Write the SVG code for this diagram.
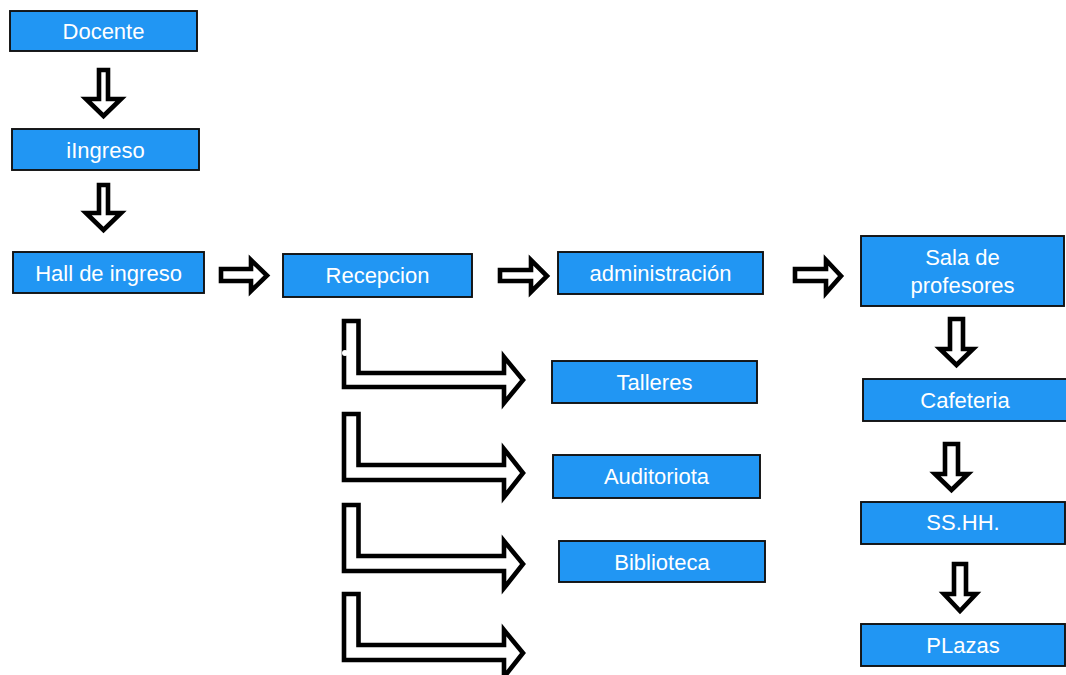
<svg xmlns="http://www.w3.org/2000/svg" width="1066" height="675" viewBox="0 0 1066 675">
<style>
.box{fill:#2196F3;stroke:#111;stroke-width:1.9}
.lbl{fill:#fff;font-family:"Liberation Sans",Arial,sans-serif;font-size:22px;text-anchor:middle}
.arr{fill:#fff;stroke:#000;stroke-width:4.6;stroke-linejoin:miter}
</style>
<rect width="1066" height="675" fill="#fff"/>
<g id="connectors">
<polygon class="arr" points="99,70 108,70 108,99 121,99 103.5,116 86,99 99,99"/>
<polygon class="arr" points="99,185 108,185 108,213 121,213 103.5,230 86,213 99,213"/>
<polygon class="arr" points="221,269 251,269 251,260 267,275.5 251,291 251,281 221,281"/>
<polygon class="arr" points="500,270 531,270 531,260 547,276 531,292 531,281 500,281"/>
<polygon class="arr" points="795,269 826,269 826,260 841,276 826,293 826,281 795,281"/>
<polygon class="arr" points="950,319 963,319 963,349 973,349 956.5,365 940,349 950,349"/>
<polygon class="arr" points="945,444 958,444 958,474 968,474 951.5,490 935,474 945,474"/>
<polygon class="arr" points="954,564 966,564 966,594 976,594 960,611 944,594 954,594"/>
<polygon class="arr" points="344,321 358.5,321 358.5,373 504,373 504,357 523,380 504,403 504,387 344,387"/>
<polygon class="arr" points="344,414 358.5,414 358.5,465 504,465 504,449 523,473 504,497 504,480 344,480"/>
<polygon class="arr" points="344,505 358.5,505 358.5,556 504,556 504,541 523,564 504,588 504,571 344,571"/>
<polygon class="arr" points="344,594 358.5,594 358.5,645 504,645 504,630 523,653 504,677 504,660 344,660"/>
<circle cx="345" cy="353" r="3" fill="#fff"/>
</g>
<g id="docente"><rect class="box" x="10" y="11" width="187" height="40"/><text class="lbl" x="103.5" y="39">Docente</text></g>
<g id="ingreso"><rect class="box" x="12" y="129" width="187" height="41"/><text class="lbl" x="105.5" y="157.5">iIngreso</text></g>
<g id="hall"><rect class="box" x="13" y="252" width="191" height="41"/><text class="lbl" x="108.5" y="280.5">Hall de ingreso</text></g>
<g id="recepcion"><rect class="box" x="283" y="254" width="189" height="43"/><text class="lbl" x="377.5" y="283">Recepcion</text></g>
<g id="administracion"><rect class="box" x="558" y="252" width="205" height="42"/><text class="lbl" x="660.5" y="281">administración</text></g>
<g id="sala"><rect class="box" x="861" y="236" width="203" height="70"/><text class="lbl" x="962.5" y="265">Sala de</text><text class="lbl" x="962.5" y="293">profesores</text></g>
<g id="cafeteria"><rect class="box" x="863" y="379" width="204" height="42"/><text class="lbl" x="965" y="408">Cafeteria</text></g>
<g id="sshh"><rect class="box" x="861" y="502" width="204" height="42"/><text class="lbl" x="963" y="530">SS.HH.</text></g>
<g id="plazas"><rect class="box" x="861" y="624" width="204" height="42"/><text class="lbl" x="963" y="652.5">PLazas</text></g>
<g id="talleres"><rect class="box" x="552" y="361" width="205" height="42"/><text class="lbl" x="654.5" y="389.5">Talleres</text></g>
<g id="auditoriota"><rect class="box" x="553" y="455" width="207" height="43"/><text class="lbl" x="656.5" y="484">Auditoriota</text></g>
<g id="biblioteca"><rect class="box" x="559" y="541" width="206" height="41"/><text class="lbl" x="662" y="569.5">Biblioteca</text></g>
</svg>
